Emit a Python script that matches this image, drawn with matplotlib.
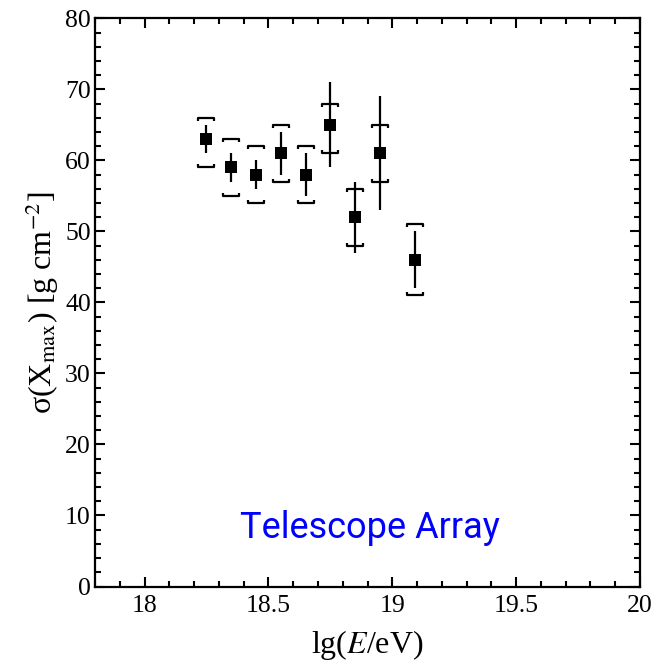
import matplotlib
matplotlib.use('Agg')
import numpy as np
from matplotlib import pyplot as plt
from matplotlib.ticker import MultipleLocator, FixedLocator
from matplotlib.path import Path

matplotlib.rcParams['font.family'] = 'serif'
matplotlib.rcParams['font.serif'] = ['Liberation Serif', 'DejaVu Serif']
matplotlib.rcParams['mathtext.fontset'] = 'stix'

# TA sigma(Xmax) values
lg_e = np.array([18.25, 18.35, 18.45, 18.55, 18.65, 18.75, 18.85, 18.95, 19.09])
sigma_xmax = np.array([63, 59, 58, 61, 58, 65, 52, 61, 46])
stat_err = np.array([2, 2, 2, 3, 3, 6, 5, 8, 4])
sys_up = np.array([3, 4, 4, 4, 4, 3, 4, 4, 5])
sys_down = np.array([4, 4, 4, 4, 4, 4, 4, 4, 5])

x_ticks = [18, 18.5, 19, 19.5, 20]
x_tick_labels = ['18', '18.5', '19', '19.5', '20']

# bracket shaped markers for the systematic band
top_bracket = Path([(-1, -0.35), (-1, 0), (1, 0), (1, -0.35)])
bottom_bracket = Path([(-1, 0.35), (-1, 0), (1, 0), (1, 0.35)])

fig = plt.figure(figsize=(6.56, 6.62), dpi=100)
ax = fig.add_axes([95 / 656, 1 - 586.5 / 662, 545 / 656, 568.2 / 662])

ax.errorbar(lg_e, sigma_xmax, yerr=stat_err, fmt='none', ecolor='black', elinewidth=1.6, capsize=0, zorder=2)
ax.plot(lg_e, sigma_xmax + sys_up, linestyle='none', marker=top_bracket, markersize=11.5,
        markerfacecolor='none', markeredgecolor='black', markeredgewidth=1.6, zorder=3)
ax.plot(lg_e, sigma_xmax - sys_down, linestyle='none', marker=bottom_bracket, markersize=11.5,
        markerfacecolor='none', markeredgecolor='black', markeredgewidth=1.6, zorder=3)
ax.plot(lg_e, sigma_xmax, linestyle='none', marker='s', markersize=8.5, color='black',
        markeredgewidth=0, zorder=4)

ax.set_xlim(17.8, 20)
ax.set_ylim(0, 80)
ax.xaxis.set_major_locator(FixedLocator(x_ticks))
ax.set_xticklabels(x_tick_labels)
ax.xaxis.set_minor_locator(MultipleLocator(0.1))
ax.yaxis.set_major_locator(MultipleLocator(10))
ax.yaxis.set_minor_locator(MultipleLocator(2))

ax.tick_params(which='both', direction='in', top=True, right=True, width=1.5, labelsize=18.5)
ax.tick_params(which='major', length=7, pad=6)
ax.tick_params(which='minor', length=4)
ax.tick_params(axis='y', which='major', pad=3)
for side in ax.spines.values():
    side.set_linewidth(1.6)

ax.set_xlabel('lg($E$/eV)', fontsize=23, labelpad=8)
ax.set_ylabel('σ(X$_{\\mathrm{max}}$) [g cm$^{\\mathrm{-2}}$]', fontsize=23, labelpad=3)

ax.text(0.505, 0.103, 'Telescope Array', transform=ax.transAxes, ha='center', va='center',
        color='blue', fontsize=26, family='Roboto')

plt.savefig('out.png', dpi=100)
plt.close()
